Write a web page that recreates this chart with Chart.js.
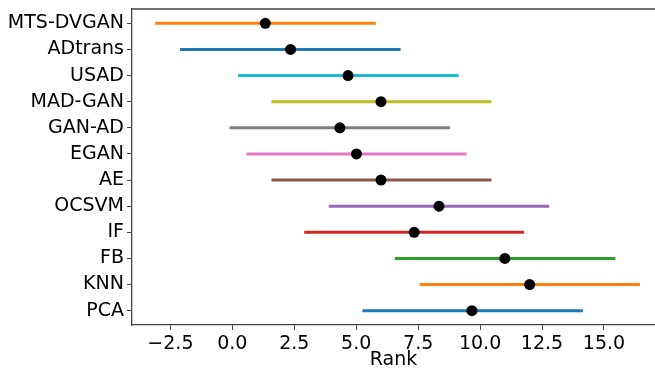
<!DOCTYPE html>
<html>
<head>
<meta charset="utf-8">
<script src="https://cdn.jsdelivr.net/npm/chart.js@4"></script>
<style>
  body { margin: 0; background: #fff; overflow: hidden; }
</style>
</head>
<body>
<canvas id="rankChart" width="655" height="371"></canvas>
<script>
// methods, top to bottom
const methods = ['MTS-DVGAN', 'ADtrans', 'USAD', 'MAD-GAN', 'GAN-AD', 'EGAN', 'AE', 'OCSVM', 'IF', 'FB', 'KNN', 'PCA'];
// mean rank (black dots) and the interval ends
const meanRank = [1.33, 2.35, 4.67, 6.0, 4.34, 5.01, 6.0, 8.34, 7.34, 11.0, 12.0, 9.67];
const lowRank  = [-3.11, -2.11, 0.23, 1.58, -0.11, 0.57, 1.58, 3.89, 2.90, 6.56, 7.56, 5.25];
const highRank = [5.79, 6.79, 9.13, 10.46, 8.79, 9.45, 10.46, 12.79, 11.78, 15.46, 16.45, 14.15];
const lineColors = ['#ff7f0e', '#1f77b4', '#17becf', '#bcbd22', '#7f7f7f', '#e377c2',
                    '#8c564b', '#9467bd', '#d62728', '#2ca02c', '#ff7f0e', '#1f77b4'];
const xTicks = [-2.5, 0, 2.5, 5, 7.5, 10, 12.5, 15];

const axisColor = '#444';
const tickFont = { family: 'DejaVu Sans', size: 19 };

// dots first so they are drawn on top of the lines
const datasets = [{
    label: 'mean',
    data: meanRank.map((v, i) => ({ x: v, y: i })),
    pointRadius: 5.5,
    pointBackgroundColor: '#000',
    pointBorderWidth: 0,
    showLine: false
}];

methods.forEach((m, i) => {
    datasets.push({
        label: m,
        data: [{ x: lowRank[i], y: i }, { x: highRank[i], y: i }],
        borderColor: lineColors[i],
        borderWidth: 3,
        pointRadius: 0,
        showLine: true
    });
});

// matplotlib style top spine
const topSpine = {
    id: 'topSpine',
    afterDraw(chart) {
        const a = chart.chartArea;
        const ctx = chart.ctx;
        ctx.save();
        ctx.strokeStyle = axisColor;
        ctx.lineWidth = 1.3;
        ctx.beginPath();
        ctx.moveTo(a.left, a.top);
        ctx.lineTo(a.right, a.top);
        ctx.stroke();
        ctx.restore();
    }
};

new Chart(document.getElementById('rankChart'), {
    type: 'scatter',
    data: { datasets: datasets },
    plugins: [topSpine],
    options: {
        responsive: false,
        animation: false,
        layout: { autoPadding: false, padding: { top: 9, right: 0, left: 0, bottom: 0 } },
        plugins: {
            legend: { display: false },
            tooltip: { enabled: false }
        },
        scales: {
            x: {
                type: 'linear',
                min: -4.05,
                max: 17.06,
                afterBuildTicks: (scale) => {
                    scale.ticks = xTicks.map(v => ({ value: v }));
                },
                afterFit: (scale) => {
                    scale.height = 46;
                    scale.paddingRight = 0;
                    scale.paddingLeft = 0;
                },
                ticks: {
                    color: '#000',
                    font: tickFont,
                    padding: 3,
                    maxRotation: 0,
                    callback: (v) => v.toFixed(1).replace('-', '\u2212')
                },
                grid: { drawOnChartArea: false, drawTicks: true, tickLength: 5, color: axisColor },
                border: { display: true, color: axisColor, width: 1.3 },
                title: {
                    display: true,
                    text: 'Rank',
                    color: '#000',
                    font: tickFont,
                    padding: { top: 0, bottom: 0 }
                }
            },
            y: {
                type: 'linear',
                reverse: true,
                min: -0.55,
                max: 11.55,
                afterBuildTicks: (scale) => {
                    scale.ticks = methods.map((m, i) => ({ value: i }));
                },
                afterFit: (scale) => {
                    scale.width = 132;
                    scale.paddingTop = 0;
                    scale.paddingBottom = 0;
                },
                ticks: {
                    color: '#000',
                    font: tickFont,
                    padding: 3,
                    callback: (v) => methods[v]
                },
                grid: { drawOnChartArea: false, drawTicks: true, tickLength: 5, color: axisColor },
                border: { display: true, color: axisColor, width: 1.3 }
            }
        }
    }
});
</script>
</body>
</html>
